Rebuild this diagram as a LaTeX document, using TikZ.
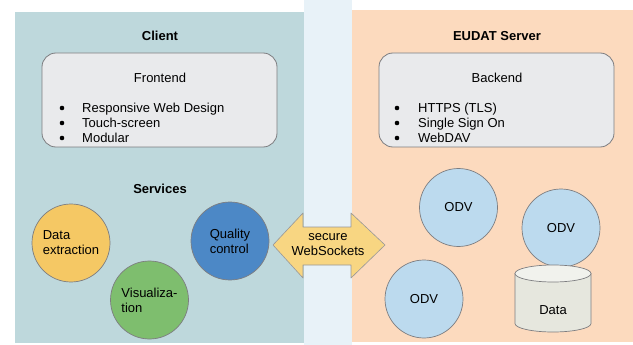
\documentclass[tikz,border=0pt]{standalone}
\usepackage{fontspec}
\setmainfont{Liberation Sans}
\definecolor{clientbg}{RGB}{190,216,220}
\definecolor{serverbg}{RGB}{252,218,190}
\definecolor{gapbg}{RGB}{232,242,248}
\definecolor{boxgray}{RGB}{233,234,236}
\definecolor{linegray}{RGB}{125,125,128}
\definecolor{dataYellow}{RGB}{245,200,100}
\definecolor{visGreen}{RGB}{126,190,110}
\definecolor{qcBlue}{RGB}{76,136,198}
\definecolor{odvBlue}{RGB}{188,218,238}
\definecolor{arrowYellow}{RGB}{248,214,130}
\definecolor{cylBody}{RGB}{230,231,222}
\definecolor{cylTop}{RGB}{241,242,237}
\begin{document}
\begin{tikzpicture}[x=1pt, y=-1pt, line join=round, line cap=round,
	font=\fontsize{13}{15}\selectfont,
	title/.style={font=\fontsize{13}{15}\selectfont\bfseries},
	panelbox/.style={draw=linegray, fill=boxgray, line width=0.8pt, rounded corners=14pt,
		minimum width=235pt, minimum height=94pt, inner sep=0pt},
	item/.style={anchor=base west, inner sep=0pt},
	dot/.style={circle, fill=black, minimum size=4.6pt, inner sep=0pt},
	service/.style={circle, draw=linegray, line width=0.7pt, minimum size=78pt, inner sep=0pt, align=left}]
	\useasboundingbox (0,0) rectangle (633,345);
	% backgrounds
	\fill[white] (0,0) rectangle (633,345);
	\fill[gapbg] (304,0) rectangle (352,345);
	\fill[clientbg] (15,12) rectangle (304,343);
	\fill[serverbg] (352,10) rectangle (633,342);
	% titles
	\node[title] (client) at (160,36) {Client};
	\node[title] (server) at (497,36) {EUDAT Server};
	\node[title] (services) at (160,189) {Services};
	% frontend / backend
	\node[panelbox] (frontend) at (159.5,100) {};
	\node (fetitle) at (160,78) {Frontend};
	\foreach \t [count=\i] in {Responsive Web Design, Touch-screen, Modular}
	{
		\node[dot] (fedot\i) at (62,93+15*\i) {};
		\node[item] (fe\i) at (82,97.5+15*\i) {\t};
	}
	\node[panelbox] (backend) at (496.5,100) {};
	\node (betitle) at (497,78) {Backend};
	\foreach \t [count=\i] in {HTTPS (TLS), Single Sign On, WebDAV}
	{
		\node[dot] (bedot\i) at (397,93+15*\i) {};
		\node[item] (be\i) at (418,97.5+15*\i) {\t};
	}
	% services
	\node[service, fill=dataYellow] (extract) at (71,243) {Data\\extraction};
	\node[service, fill=visGreen] (vis) at (149.5,300) {Visualiza-\\tion};
	\node[service, fill=qcBlue] (qc) at (230,241) {Quality\\control};
	% server side
	\foreach \n/\x/\y in {odva/458.5/207.5, odvb/561/228, odvc/424/299}
	\node[service, fill=odvBlue] (\n) at (\x,\y) {ODV};
	\draw[linegray, line width=0.7pt, fill=cylBody]
	(515,273.5) -- (515,323.5) arc (180:0:38 and 8.5) -- (591,273.5);
	\draw[linegray, line width=0.7pt, fill=cylTop] (553,273.5) ellipse (38 and 8.5);
	\node (data) at (553,310) {Data};
	% websockets arrow
	\draw[draw=linegray!80, fill=arrowYellow, line width=0.6pt]
	(273,245) -- (303,213) -- (303,227) -- (351,227) -- (351,213) -- (385,245)
	-- (351,278) -- (351,265) -- (303,265) -- (303,278) -- cycle;
	\node[align=center] (ws) at (328,245) {secure\\WebSockets};
\end{tikzpicture}
\end{document}
